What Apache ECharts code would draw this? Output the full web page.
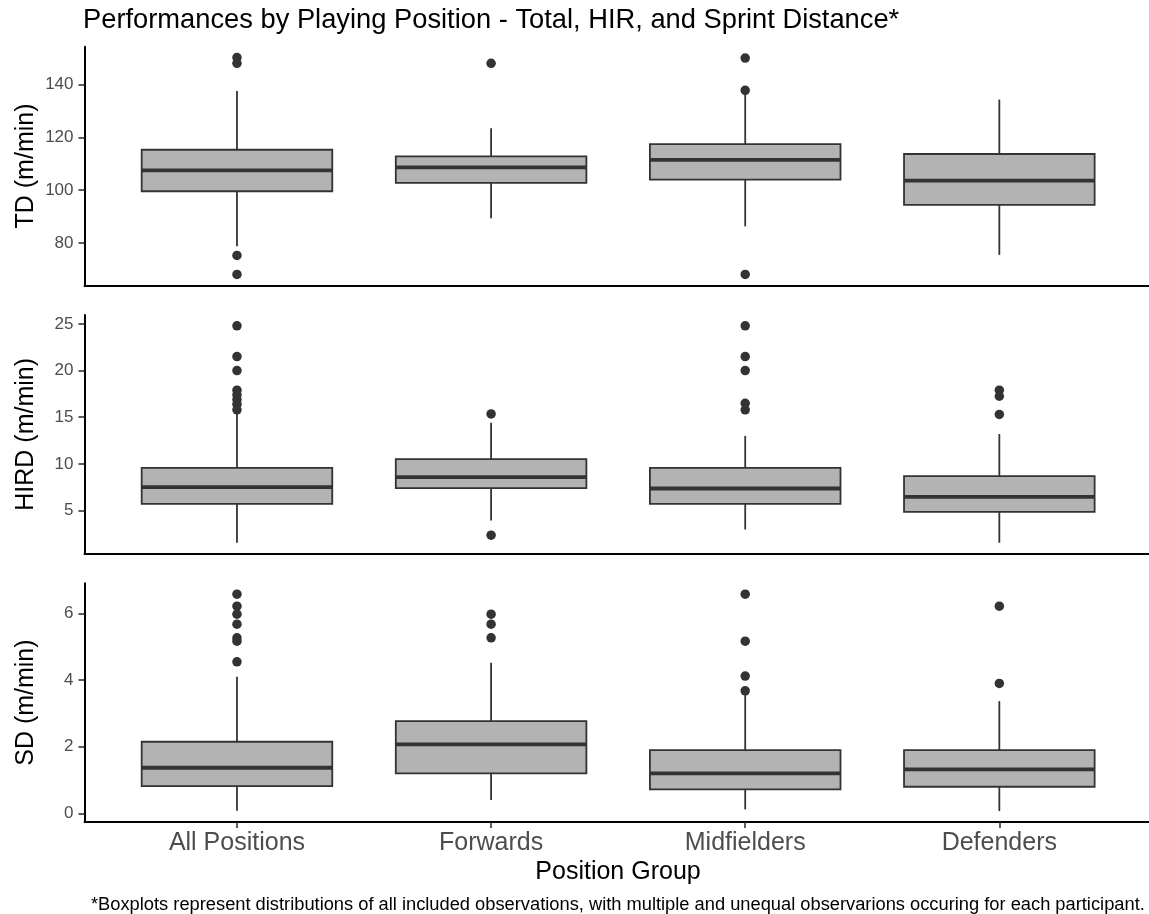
<!DOCTYPE html>
<html>
<head>
<meta charset="utf-8">
<script src="https://cdn.jsdelivr.net/npm/echarts@6/dist/echarts.min.js"></script>
<style>
  html, body { margin: 0; padding: 0; background: #ffffff; }
  #chart { width: 1149px; height: 914px; }
</style>
</head>
<body>
<div id="chart"></div>
<script>
// Position groups along the x axis
const categories = ['All Positions', 'Forwards', 'Midfielders', 'Defenders'];

// Box summaries per group: [lower whisker, Q1, median, Q3, upper whisker]
const tdBoxes = [
  [78.8, 99.6, 107.5, 115.3, 137.5],
  [89.4, 102.8, 108.6, 112.8, 123.4],
  [86.3, 104.0, 111.5, 117.4, 137.0],
  [75.5, 94.4, 103.6, 113.7, 134.3]
];
const tdOutliers = [
  [150.2, 148.0, 75.3, 68.1],
  [148.0],
  [150.0, 137.8, 68.1],
  []
];

const hirdBoxes = [
  [1.54, 5.70, 7.50, 9.57, 15.4],
  [3.93, 7.40, 8.57, 10.5, 14.4],
  [2.96, 5.70, 7.36, 9.57, 13.0],
  [1.54, 4.86, 6.47, 8.68, 13.2]
];
const hirdOutliers = [
  [24.8, 21.5, 20.0, 17.9, 17.4, 16.9, 16.4, 15.8],
  [15.36, 2.35],
  [24.8, 21.5, 20.0, 16.5, 15.8],
  [17.9, 17.25, 15.3]
];

const sdBoxes = [
  [0.08, 0.82, 1.37, 2.15, 4.10],
  [0.40, 1.20, 2.07, 2.77, 4.52],
  [0.12, 0.72, 1.20, 1.90, 3.60],
  [0.07, 0.80, 1.32, 1.90, 3.37]
];
const sdOutliers = [
  [6.58, 6.22, 5.98, 5.68, 5.27, 5.17, 4.55],
  [5.98, 5.68, 5.27],
  [6.58, 5.17, 4.12, 3.68],
  [6.22, 3.90]
];

// Tick values on each panel's y axis
const tdTicks = [80, 100, 120, 140];
const hirdTicks = [5, 10, 15, 20, 25];
const sdTicks = [0, 2, 4, 6];

const panelNames = ['TD (m/min)', 'HIRD (m/min)', 'SD (m/min)'];
const titleText = 'Performances by Playing Position - Total, HIR, and Sprint Distance*';
const xAxisTitle = 'Position Group';
const footnote = '*Boxplots represent distributions of all included observations, with multiple and unequal observarions occuring for each participant.';

// ---------------------------------------------------------------------------
const FONT = '"Liberation Sans", Arial, Helvetica, sans-serif';
const INK = '#333333';
const FILL = '#B3B3B3';
const BOX_WIDTH = 0.75;          // fraction of one category step
const X_MIN = 0.4, X_MAX = 4.6;  // discrete scale with 0.6 padding each side

const panels = [
  { boxes: tdBoxes, outliers: tdOutliers, ticks: tdTicks },
  { boxes: hirdBoxes, outliers: hirdOutliers, ticks: hirdTicks },
  { boxes: sdBoxes, outliers: sdOutliers, ticks: sdTicks }
];

const gridTops = [46.7, 315, 583.3];
const gridHeight = 238.6;
const gridLeft = 84.5;
const gridRight = -2.8;

// y range: data extent padded by 5% on both sides
function paddedRange(boxes, outliers) {
  let lo = Infinity, hi = -Infinity;
  boxes.forEach(b => b.forEach(v => { lo = Math.min(lo, v); hi = Math.max(hi, v); }));
  outliers.forEach(o => o.forEach(v => { lo = Math.min(lo, v); hi = Math.max(hi, v); }));
  const pad = (hi - lo) * 0.05;
  return [lo - pad, hi + pad];
}

function renderBox(params, api) {
  const x = api.value(0);
  const lo = api.coord([x, api.value(1)]);
  const q1 = api.coord([x, api.value(2)]);
  const med = api.coord([x, api.value(3)]);
  const q3 = api.coord([x, api.value(4)]);
  const hi = api.coord([x, api.value(5)]);
  const half = api.size([BOX_WIDTH, 0])[0] / 2;
  const lineStyle = { stroke: INK, lineWidth: 1.8 };
  return {
    type: 'group',
    children: [
      { type: 'line', shape: { x1: hi[0], y1: hi[1], x2: q3[0], y2: q3[1] }, style: lineStyle },
      { type: 'line', shape: { x1: q1[0], y1: q1[1], x2: lo[0], y2: lo[1] }, style: lineStyle },
      { type: 'rect', shape: { x: q3[0] - half, y: q3[1], width: half * 2, height: q1[1] - q3[1] },
        style: { fill: FILL, stroke: INK, lineWidth: 1.8 } },
      { type: 'line', shape: { x1: med[0] - half, y1: med[1], x2: med[0] + half, y2: med[1] },
        style: { stroke: INK, lineWidth: 3.8 } }
    ]
  };
}

const grid = [], xAxis = [], yAxis = [], series = [];
const catPositions = categories.map((c, i) => i + 1);

panels.forEach((p, k) => {
  const isBottom = k === panels.length - 1;
  const [yMin, yMax] = paddedRange(p.boxes, p.outliers);
  grid.push({ left: gridLeft, right: gridRight, top: gridTops[k], height: gridHeight, outerBoundsMode: 'none' });
  xAxis.push({
    type: 'value', gridIndex: k, min: X_MIN, max: X_MAX,
    axisLine: { show: true, onZero: false, lineStyle: { color: '#000000', width: 2 } },
    axisTick: { show: isBottom, customValues: catPositions, length: 6, lineStyle: { color: INK, width: 1.6 } },
    axisLabel: {
      show: isBottom, customValues: catPositions, margin: 9,
      formatter: v => categories[Math.round(v) - 1] || '',
      color: '#4D4D4D', fontSize: 25, fontFamily: FONT
    },
    splitLine: { show: false }
  });
  yAxis.push({
    type: 'value', gridIndex: k, min: yMin, max: yMax,
    axisLine: { show: true, onZero: false, lineStyle: { color: '#000000', width: 2 } },
    axisTick: { show: true, customValues: p.ticks, length: 6, lineStyle: { color: INK, width: 1.6 } },
    axisLabel: { customValues: p.ticks, margin: 11, color: '#4D4D4D', fontSize: 17, fontFamily: FONT },
    splitLine: { show: false }
  });
  series.push({
    type: 'custom', xAxisIndex: k, yAxisIndex: k,
    renderItem: renderBox,
    encode: { x: 0, y: [1, 2, 3, 4, 5] },
    data: p.boxes.map((b, i) => [i + 1].concat(b)),
    z: 2, silent: true
  });
  const pts = [];
  p.outliers.forEach((list, i) => list.forEach(v => pts.push([i + 1, v])));
  series.push({
    type: 'scatter', xAxisIndex: k, yAxisIndex: k,
    data: pts, symbol: 'circle', symbolSize: 9.5,
    itemStyle: { color: INK, opacity: 1 },
    z: 3, silent: true
  });
});

const graphic = [
  { type: 'text', x: 83, y: 20,
    style: { text: titleText, font: '27.3px ' + FONT, fill: '#000000', align: 'left', verticalAlign: 'middle' } },
  { type: 'text', x: 618, y: 872,
    style: { text: xAxisTitle, font: '25px ' + FONT, fill: '#000000', align: 'center', verticalAlign: 'middle' } },
  { type: 'text', x: 91, y: 905,
    style: { text: footnote, font: '18.3px ' + FONT, fill: '#000000', align: 'left', verticalAlign: 'middle' } }
];
panelNames.forEach((name, k) => {
  graphic.push({
    type: 'text', x: 26, y: gridTops[k] + gridHeight / 2, rotation: Math.PI / 2,
    style: { text: name, font: '25px ' + FONT, fill: '#000000', align: 'center', verticalAlign: 'middle' }
  });
});

const chart = echarts.init(document.getElementById('chart'), null, { renderer: 'canvas' });
chart.setOption({
  animation: false,
  backgroundColor: '#ffffff',
  grid, xAxis, yAxis, series, graphic
});
</script>
</body>
</html>
